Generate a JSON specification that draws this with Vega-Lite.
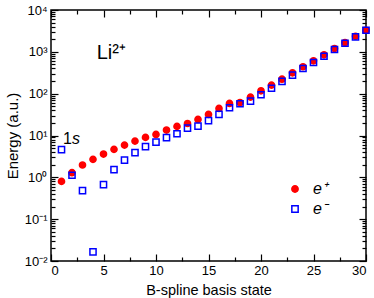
{
  "$schema": "https://vega.github.io/schema/vega-lite/v6.json",
  "width": 315,
  "height": 251,
  "autosize": "none",
  "padding": {"left": 51, "top": 10, "right": 8, "bottom": 37},
  "config": {
    "font": "Liberation Sans",
    "view": {"stroke": "black", "strokeWidth": 1.5},
    "axis": {"domain": false, "grid": false, "tickColor": "black", "tickWidth": 1.2, "labelColor": "black", "titleColor": "black", "labelFont": "Liberation Sans", "titleFont": "Liberation Sans", "labelFontSize": 13, "titleFontSize": 14.5, "titleFontWeight": "normal", "labelOverlap": false},
    "legend": {"title": null}
  },
  "datasets": {
    "pts": [
      {"n": 1, "E": 0.80, "s": "e⁺"}, {"n": 2, "E": 1.29, "s": "e⁺"}, {"n": 3, "E": 1.97, "s": "e⁺"}, {"n": 4, "E": 2.69, "s": "e⁺"}, {"n": 5, "E": 3.60, "s": "e⁺"},
      {"n": 6, "E": 4.66, "s": "e⁺"}, {"n": 7, "E": 5.90, "s": "e⁺"}, {"n": 8, "E": 7.35, "s": "e⁺"}, {"n": 9, "E": 9.0, "s": "e⁺"}, {"n": 10, "E": 10.6, "s": "e⁺"},
      {"n": 11, "E": 13.5, "s": "e⁺"}, {"n": 12, "E": 16.5, "s": "e⁺"}, {"n": 13, "E": 19.4, "s": "e⁺"}, {"n": 14, "E": 24.2, "s": "e⁺"}, {"n": 15, "E": 31.9, "s": "e⁺"},
      {"n": 16, "E": 44.4, "s": "e⁺"}, {"n": 17, "E": 58.4, "s": "e⁺"}, {"n": 18, "E": 61.6, "s": "e⁺"}, {"n": 19, "E": 82.5, "s": "e⁺"}, {"n": 20, "E": 117, "s": "e⁺"},
      {"n": 21, "E": 160, "s": "e⁺"}, {"n": 22, "E": 222, "s": "e⁺"}, {"n": 23, "E": 315, "s": "e⁺"}, {"n": 24, "E": 439, "s": "e⁺"}, {"n": 25, "E": 610, "s": "e⁺"},
      {"n": 26, "E": 848, "s": "e⁺"}, {"n": 27, "E": 1199, "s": "e⁺"}, {"n": 28, "E": 1667, "s": "e⁺"}, {"n": 29, "E": 2357, "s": "e⁺"}, {"n": 30, "E": 3278, "s": "e⁺"},
      {"n": 1, "E": 4.58, "s": "e⁻"}, {"n": 2, "E": 1.12, "s": "e⁻"}, {"n": 3, "E": 0.48, "s": "e⁻"}, {"n": 4, "E": 0.0165, "s": "e⁻"}, {"n": 5, "E": 0.67, "s": "e⁻"},
      {"n": 6, "E": 1.53, "s": "e⁻"}, {"n": 7, "E": 2.59, "s": "e⁻"}, {"n": 8, "E": 3.89, "s": "e⁻"}, {"n": 9, "E": 5.40, "s": "e⁻"}, {"n": 10, "E": 6.96, "s": "e⁻"},
      {"n": 11, "E": 8.86, "s": "e⁻"}, {"n": 12, "E": 11.0, "s": "e⁻"}, {"n": 13, "E": 15.0, "s": "e⁻"}, {"n": 14, "E": 16.8, "s": "e⁻"}, {"n": 15, "E": 22.6, "s": "e⁻"},
      {"n": 16, "E": 31.9, "s": "e⁻"}, {"n": 17, "E": 46.1, "s": "e⁻"}, {"n": 18, "E": 57.4, "s": "e⁻"}, {"n": 19, "E": 66.2, "s": "e⁻"}, {"n": 20, "E": 94.1, "s": "e⁻"},
      {"n": 21, "E": 135, "s": "e⁻"}, {"n": 22, "E": 196, "s": "e⁻"}, {"n": 23, "E": 277, "s": "e⁻"}, {"n": 24, "E": 399, "s": "e⁻"}, {"n": 25, "E": 556, "s": "e⁻"},
      {"n": 26, "E": 785, "s": "e⁻"}, {"n": 27, "E": 1135, "s": "e⁻"}, {"n": 28, "E": 1604, "s": "e⁻"}, {"n": 29, "E": 2280, "s": "e⁻"}, {"n": 30, "E": 3278, "s": "e⁻"}
    ],
    "notes": [
      {"t": "Li²⁺", "x": 4.35, "y": 690, "k": "li"},
      {"t": "1", "x": 1.15, "y": 6.1, "k": "one"},
      {"t": "s", "x": 1.99, "y": 6.1, "k": "s"}
    ]
  },
  "layer": [
    {
      "data": {"name": "pts"},
      "mark": {"type": "point", "strokeWidth": 1.5, "opacity": 1, "size": 38},
      "encoding": {
        "x": {"field": "n", "type": "quantitative", "scale": {"domain": [0, 30], "nice": false, "zero": false},
          "axis": {"orient": "bottom", "title": "B-spline basis state", "values": [0, 2.5, 5, 7.5, 10, 12.5, 15, 17.5, 20, 22.5, 25, 27.5, 30],
            "labelExpr": "datum.value % 5 === 0 ? datum.label : ''", "tickSize": {"condition": {"test": "datum.value % 5 === 0", "value": -7}, "value": -4}, "labelPadding": 10, "titlePadding": 3}},
        "y": {"field": "E", "type": "quantitative", "scale": {"type": "log", "domain": [0.01, 10000], "nice": false},
          "axis": {"orient": "left", "title": "Energy (a.u.)", "values": [0.01,0.02,0.03,0.04,0.05,0.06,0.07,0.08,0.09,0.1,0.2,0.3,0.4,0.5,0.6,0.7,0.8,0.9,1,2,3,4,5,6,7,8,9,10,20,30,40,50,60,70,80,90,100,200,300,400,500,600,700,800,900,1000,2000,3000,4000,5000,6000,7000,8000,9000,10000],
            "labelExpr": "datum.value === 0.01 ? '10⁻²' : datum.value === 0.1 ? '10⁻¹' : datum.value === 1 ? '10⁰' : datum.value === 10 ? '10¹' : datum.value === 100 ? '10²' : datum.value === 1000 ? '10³' : datum.value === 10000 ? '10⁴' : ''",
            "tickSize": {"condition": {"test": "indexof([0.01,0.1,1,10,100,1000,10000], datum.value) >= 0", "value": -7}, "value": -4}, "labelPadding": 11, "titlePadding": 4, "titleFontSize": 15}},
        "shape": {"field": "s", "type": "nominal", "scale": {"domain": ["e⁺", "e⁻"], "range": ["circle", "square"]},
          "legend": {"orient": "none", "legendX": 236, "legendY": 171, "labelFontSize": 16, "labelFontStyle": "italic", "labelFont": "Liberation Sans", "labelColor": "black", "symbolSize": 40, "symbolStrokeWidth": 1.5, "labelOffset": 10, "rowPadding": 4, "padding": 0}},
        "fill": {"field": "s", "type": "nominal", "scale": {"domain": ["e⁺", "e⁻"], "range": ["#ff0000", "transparent"]}},
        "stroke": {"field": "s", "type": "nominal", "scale": {"domain": ["e⁺", "e⁻"], "range": ["#ff0000", "#0000ff"]}}
      }
    },
    {
      "data": {"name": "notes"},
      "transform": [{"filter": "datum.k !== 's'"}],
      "mark": {"type": "text", "align": "left", "baseline": "alphabetic", "color": "black", "font": "Liberation Sans"},
      "encoding": {
        "x": {"field": "x", "type": "quantitative",
          "axis": {"orient": "top", "title": null, "values": [0, 2.5, 5, 7.5, 10, 12.5, 15, 17.5, 20, 22.5, 25, 27.5, 30], "labels": false,
            "tickSize": {"condition": {"test": "datum.value % 5 === 0", "value": -7}, "value": -4}}},
        "y": {"field": "y", "type": "quantitative",
          "axis": {"orient": "right", "title": null, "labels": false, "values": [0.01,0.02,0.03,0.04,0.05,0.06,0.07,0.08,0.09,0.1,0.2,0.3,0.4,0.5,0.6,0.7,0.8,0.9,1,2,3,4,5,6,7,8,9,10,20,30,40,50,60,70,80,90,100,200,300,400,500,600,700,800,900,1000,2000,3000,4000,5000,6000,7000,8000,9000,10000],
            "tickSize": {"condition": {"test": "indexof([0.01,0.1,1,10,100,1000,10000], datum.value) >= 0", "value": -7}, "value": -4}}},
        "text": {"field": "t"},
        "size": {"condition": {"test": "datum.k === 'li'", "value": 20}, "value": 16}
      }
    },
    {
      "data": {"name": "notes"},
      "transform": [{"filter": "datum.k === 's'"}],
      "mark": {"type": "text", "align": "left", "baseline": "alphabetic", "color": "black", "font": "Liberation Sans", "fontStyle": "italic", "fontSize": 16},
      "encoding": {
        "x": {"field": "x", "type": "quantitative", "axis": null},
        "y": {"field": "y", "type": "quantitative", "axis": null},
        "text": {"field": "t"}
      }
    }
  ],
  "resolve": {"axis": {"x": "independent", "y": "independent"}}
}
